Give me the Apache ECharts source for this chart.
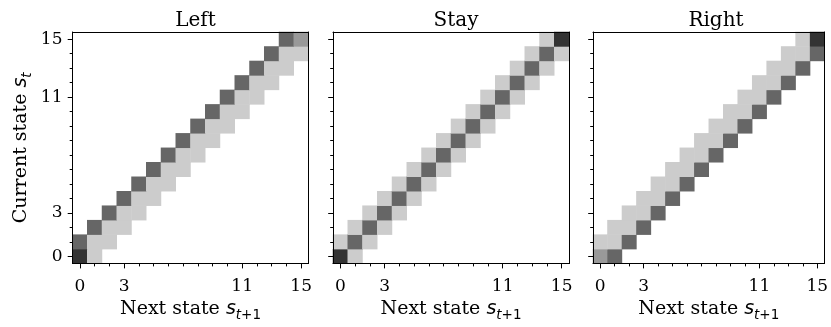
<!DOCTYPE html>
<html>
<head>
<meta charset="utf-8">
<script src="https://cdn.jsdelivr.net/npm/echarts@6/dist/echarts.min.js"></script>
<style>
html,body{margin:0;padding:0;background:#fff;}
#c{width:831px;height:327px;}
</style>
</head>
<body>
<div id="c"></div>
<script>
// ---- data ----
var states = ['0','1','2','3','4','5','6','7','8','9','10','11','12','13','14','15'];
var tickLabels = ['0','3','11','15'];
var panelTitles = ['Left','Stay','Right'];
// cells: [next state index, current state index, probability]
var leftCells = [
  [0,0,0.8],[1,0,0.2],
  [0,1,0.6],[1,1,0.2],[2,1,0.2],
  [1,2,0.6],[2,2,0.2],[3,2,0.2],
  [2,3,0.6],[3,3,0.2],[4,3,0.2],
  [3,4,0.6],[4,4,0.2],[5,4,0.2],
  [4,5,0.6],[5,5,0.2],[6,5,0.2],
  [5,6,0.6],[6,6,0.2],[7,6,0.2],
  [6,7,0.6],[7,7,0.2],[8,7,0.2],
  [7,8,0.6],[8,8,0.2],[9,8,0.2],
  [8,9,0.6],[9,9,0.2],[10,9,0.2],
  [9,10,0.6],[10,10,0.2],[11,10,0.2],
  [10,11,0.6],[11,11,0.2],[12,11,0.2],
  [11,12,0.6],[12,12,0.2],[13,12,0.2],
  [12,13,0.6],[13,13,0.2],[14,13,0.2],
  [13,14,0.6],[14,14,0.2],[15,14,0.2],
  [14,15,0.6],[15,15,0.4]
];
var stayCells = [
  [0,0,0.8],[1,0,0.2],
  [0,1,0.2],[1,1,0.6],[2,1,0.2],
  [1,2,0.2],[2,2,0.6],[3,2,0.2],
  [2,3,0.2],[3,3,0.6],[4,3,0.2],
  [3,4,0.2],[4,4,0.6],[5,4,0.2],
  [4,5,0.2],[5,5,0.6],[6,5,0.2],
  [5,6,0.2],[6,6,0.6],[7,6,0.2],
  [6,7,0.2],[7,7,0.6],[8,7,0.2],
  [7,8,0.2],[8,8,0.6],[9,8,0.2],
  [8,9,0.2],[9,9,0.6],[10,9,0.2],
  [9,10,0.2],[10,10,0.6],[11,10,0.2],
  [10,11,0.2],[11,11,0.6],[12,11,0.2],
  [11,12,0.2],[12,12,0.6],[13,12,0.2],
  [12,13,0.2],[13,13,0.6],[14,13,0.2],
  [13,14,0.2],[14,14,0.6],[15,14,0.2],
  [14,15,0.2],[15,15,0.8]
];
var rightCells = [
  [0,0,0.4],[1,0,0.6],
  [0,1,0.2],[1,1,0.2],[2,1,0.6],
  [1,2,0.2],[2,2,0.2],[3,2,0.6],
  [2,3,0.2],[3,3,0.2],[4,3,0.6],
  [3,4,0.2],[4,4,0.2],[5,4,0.6],
  [4,5,0.2],[5,5,0.2],[6,5,0.6],
  [5,6,0.2],[6,6,0.2],[7,6,0.6],
  [6,7,0.2],[7,7,0.2],[8,7,0.6],
  [7,8,0.2],[8,8,0.2],[9,8,0.6],
  [8,9,0.2],[9,9,0.2],[10,9,0.6],
  [9,10,0.2],[10,10,0.2],[11,10,0.6],
  [10,11,0.2],[11,11,0.2],[12,11,0.6],
  [11,12,0.2],[12,12,0.2],[13,12,0.6],
  [12,13,0.2],[13,13,0.2],[14,13,0.6],
  [13,14,0.2],[14,14,0.2],[15,14,0.6],
  [14,15,0.2],[15,15,0.8]
];

// ---- layout / style ----
var panelData = [leftCells, stayCells, rightCells];
var gridLefts = [72.5, 333, 593];
var gridTop = 32, gridW = 236, gridH = 235;
var SERIF = "'DejaVu Serif', serif";
var SANS = "'DejaVu Sans', sans-serif";
var isMajor = function (i) { return tickLabels.indexOf(states[i]) >= 0; };
var nameRich = {
  m: { fontFamily: SANS, fontStyle: 'italic', fontSize: 19, color: '#000' },
  sub: { fontFamily: SANS, fontStyle: 'italic', fontSize: 13.5, color: '#000', padding: [12, 0, 0, 0], verticalAlign: 'bottom' },
  subr: { fontFamily: SANS, fontSize: 13.5, color: '#000', padding: [12, 0, 0, 0], verticalAlign: 'bottom' }
};

var grids = [], xAxes = [], yAxes = [], series = [], titles = [];
for (var g = 0; g < 3; g++) {
  grids.push({ left: gridLefts[g], top: gridTop, width: gridW, height: gridH, containLabel: false });
  titles.push({
    text: panelTitles[g], left: gridLefts[g] + gridW / 2, top: 6, textAlign: 'center',
    textStyle: { fontFamily: SERIF, fontSize: 20, fontWeight: 'normal', color: '#000' }
  });
  var base = { type: 'category', data: states, gridIndex: g, boundaryGap: true, z: 10,
               splitLine: { show: false }, splitArea: { show: false } };
  // minor ticks + axis line
  xAxes.push(Object.assign({}, base, {
    position: 'bottom',
    axisLine: { show: true, onZero: false, lineStyle: { color: '#000', width: 1 } },
    axisTick: { show: true, alignWithLabel: true, interval: 0, length: 2.8, lineStyle: { color: '#000', width: 1 } },
    axisLabel: { show: false }
  }));
  // major ticks + labels + name
  xAxes.push(Object.assign({}, base, {
    position: 'bottom',
    axisLine: { show: false, onZero: false },
    axisTick: { show: true, alignWithLabel: true, length: 4.8, interval: function (i) { return isMajor(i); }, lineStyle: { color: '#000', width: 1 } },
    axisLabel: { show: true, interval: function (i) { return isMajor(i); }, margin: 14,
                 fontFamily: SERIF, fontSize: 17, color: '#000' },
    name: 'Next state {m|s}{sub|t}{subr|+1}', nameLocation: 'middle', nameGap: 29,
    nameTextStyle: { fontFamily: SERIF, fontSize: 19, color: '#000', rich: nameRich }
  }));
  // top spine
  xAxes.push(Object.assign({}, base, {
    position: 'top',
    axisLine: { show: true, onZero: false, lineStyle: { color: '#000', width: 1 } },
    axisTick: { show: false }, axisLabel: { show: false }
  }));
  yAxes.push(Object.assign({}, base, {
    position: 'left',
    axisLine: { show: true, onZero: false, lineStyle: { color: '#000', width: 1 } },
    axisTick: { show: true, alignWithLabel: true, interval: 0, length: 2.8, lineStyle: { color: '#000', width: 1 } },
    axisLabel: { show: false }
  }));
  var yMajor = Object.assign({}, base, {
    position: 'left',
    axisLine: { show: false, onZero: false },
    axisTick: { show: true, alignWithLabel: true, length: 4.8, interval: function (i) { return isMajor(i); }, lineStyle: { color: '#000', width: 1 } },
    axisLabel: { show: g === 0, interval: function (i) { return isMajor(i); }, margin: 10,
                 fontFamily: SERIF, fontSize: 17, color: '#000' }
  });
  if (g === 0) {
    yMajor.name = 'Current state {m|s}{sub|t}';
    yMajor.nameLocation = 'middle';
    yMajor.nameGap = 38;
    yMajor.nameTextStyle = { fontFamily: SERIF, fontSize: 19, color: '#000', rich: nameRich };
  }
  yAxes.push(yMajor);
  yAxes.push(Object.assign({}, base, {
    position: 'right',
    axisLine: { show: true, onZero: false, lineStyle: { color: '#000', width: 1 } },
    axisTick: { show: false }, axisLabel: { show: false }
  }));
  series.push({
    type: 'heatmap', xAxisIndex: 3 * g, yAxisIndex: 3 * g, data: panelData[g],
    itemStyle: { borderWidth: 0 }, emphasis: { disabled: true }, silent: true, z: 2
  });
}

var chart = echarts.init(document.getElementById('c'), null, { renderer: 'canvas' });
chart.setOption({
  animation: false,
  backgroundColor: '#fff',
  title: titles,
  grid: grids,
  xAxis: xAxes,
  yAxis: yAxes,
  visualMap: { type: 'continuous', show: false, min: 0, max: 1, dimension: 2,
               seriesIndex: [0, 1, 2], inRange: { color: ['#ffffff', '#000000'] } },
  series: series
});
</script>
</body>
</html>
